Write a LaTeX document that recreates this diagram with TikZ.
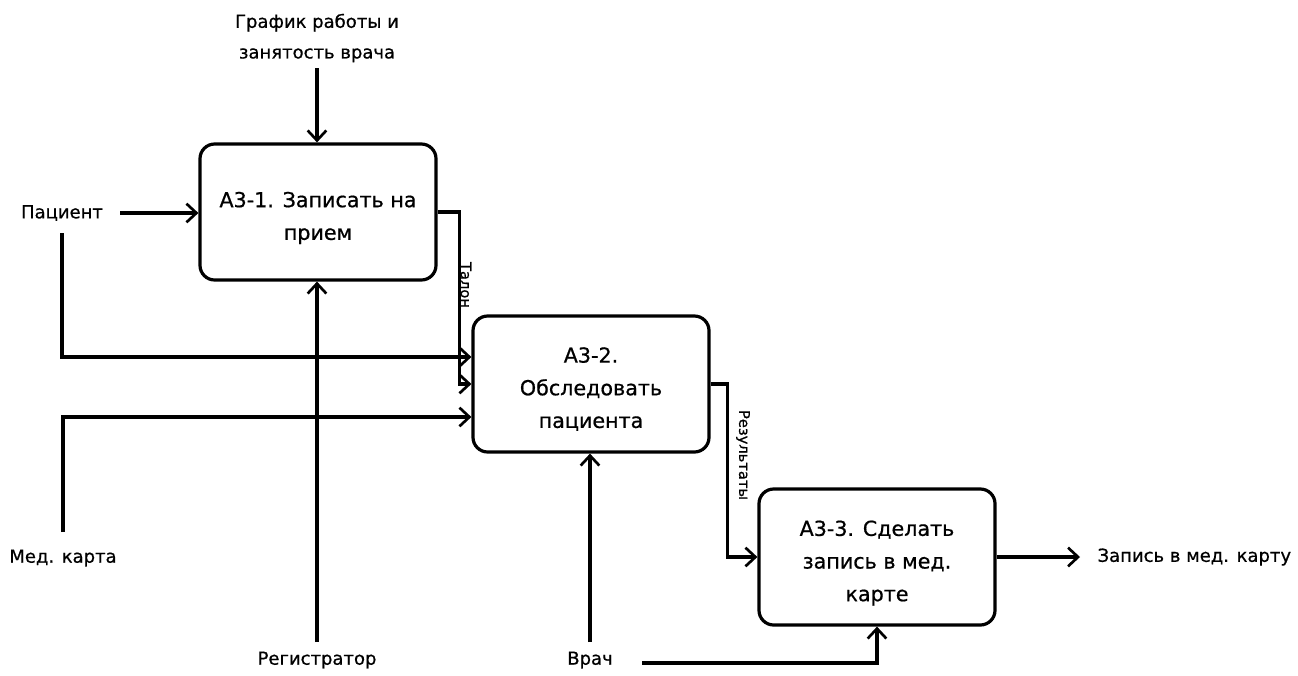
\documentclass[tikz,border=0pt]{standalone}
\usepackage{fontspec}
\setmainfont{DejaVu Sans}[FakeBold=0.7]
\usetikzlibrary{arrows.meta,calc}
\tikzset{
  func/.style={draw, line width=2.4pt, rounded corners=11pt, minimum width=177pt,
    minimum height=102pt, inner sep=0pt},
  functext/.style={align=center, font=\fontsize{15.5}{24.5}\selectfont, inner sep=1pt},
  lbl/.style={align=center, font=\fontsize{13.5}{23}\selectfont, inner sep=1pt},
  tag/.style={font=\fontsize{11}{12}\selectfont, rotate=-90, inner sep=1pt},
  arr/.style={line width=2.4pt, -{Straight Barb[length=7.5pt,width=14pt,line width=2pt]}}
}
\begin{document}
\begin{tikzpicture}[x=0.75pt,y=-0.75pt]
\useasboundingbox (0,0) rectangle (1298,675);

% activity boxes and their titles
\node[func] (b1) at (318,212) {};
\node[func] (b2) at (591,384) {};
\node[func] (b3) at (877,557) {};
\node[functext] (b1t) at ($(b1)+(0,6)$) {А3-1. Записать на\\прием};
\node[functext] (b2t) at ($(b2)+(0,5)$) {А3-2.\\Обследовать\\пациента};
\node[functext] (b3t) at ($(b3)+(0,6)$) {А3-3. Сделать\\запись в мед.\\карте};

% boundary labels
\node[lbl] (ctl) at (317,38) {График работы и\\занятость врача};
\node[lbl] (pac) at (62,213) {Пациент};
\node[lbl] (med) at (63,558) {Мед. карта};
\node[lbl] (reg) at (317,660) {Регистратор};
\node[lbl] (vr) at (590,660) {Врач};
\node[lbl, anchor=west] (out) at (1096,557) {Запись в мед. карту};

\coordinate (ctlS) at (317,68);
\coordinate (pacE) at (120,213);
\coordinate (pacS) at (62,233);
\coordinate (medN) at (63,532);
\coordinate (regN) at (317,642);
\coordinate (vrN) at (590,642);
\coordinate (vrE) at (642,663);
\coordinate (outW) at (1080,557);

% control
\draw[arr] (ctlS) -- (ctlS |- b1.north);
% inputs
\draw[arr] (pacE) -- (pacE -| b1.west);
\draw[arr] (pacS) |- ($(b2.west)+(0,-27)$);
\draw[arr] (medN) |- ($(b2.west)+(0,33)$);
% mechanisms
\draw[arr] (regN) -- (regN |- b1.south);
\draw[arr] (vrN) -- (vrN |- b2.south);
\draw[arr] (vrE) -| (b3.south);
% links between activities
\draw[arr] (b1.east) -- ++(22,0) |- (b2.west);
\node[tag] (t1) at (466,285) {Талон};
\draw[arr] (b2.east) -- ++(17,0) |- (b3.west);
\node[tag] (t2) at (743,455) {Результаты};
% output
\draw[arr] (b3.east) -- (outW);
\end{tikzpicture}
\end{document}
